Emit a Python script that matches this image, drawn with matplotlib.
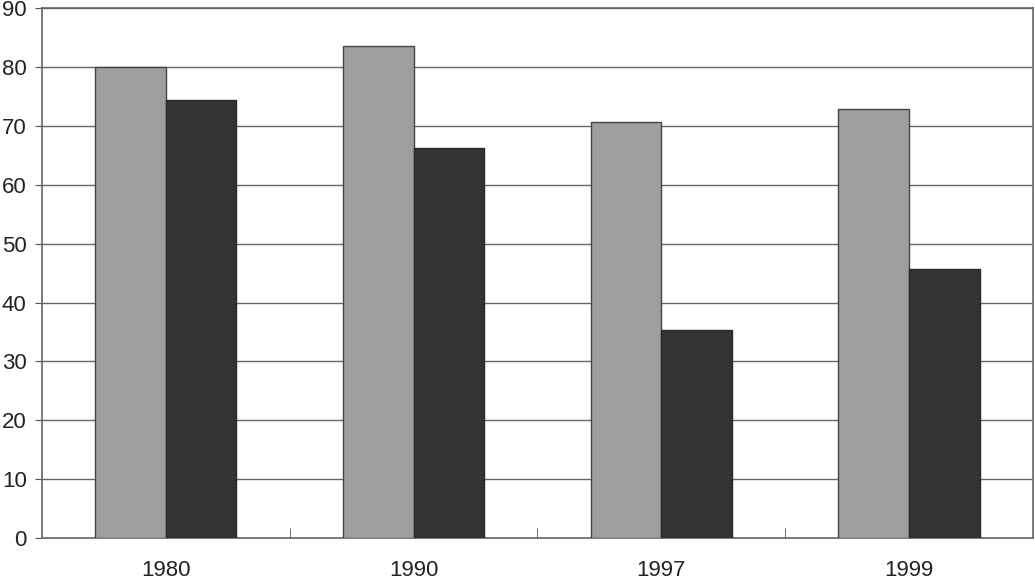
import matplotlib
matplotlib.use("Agg")
import matplotlib.pyplot as plt
import numpy as np

categories = ["1980", "1990", "1997", "1999"]
series_a = [80.0, 83.5, 70.6, 72.8]
series_b = [74.4, 66.2, 35.3, 45.7]
y_ticks = [0, 10, 20, 30, 40, 50, 60, 70, 80, 90]

plt.rcParams["font.family"] = ["Liberation Sans", "DejaVu Sans"]

fig = plt.figure(figsize=(10.35, 5.81), dpi=100)
ax = fig.add_axes([0.0406, 0.074, 0.9574, 0.912])

x = np.arange(len(categories))
w = 0.285
ax.bar(x - w / 2, series_a, w, color="#9e9e9e", edgecolor="#444444", linewidth=1.0, zorder=3)
ax.bar(x + w / 2, series_b, w, color="#333333", edgecolor="#2a2a2a", linewidth=1.0, zorder=3)

ax.set_xlim(-0.5, len(categories) - 0.5)
ax.set_ylim(0, 90)
ax.set_yticks(y_ticks)
ax.set_yticklabels([str(t) for t in y_ticks], fontsize=16, color="#222222")
ax.set_xticks(x)
ax.set_xticklabels(categories, fontsize=16, color="#222222")
ax.set_xticks(np.arange(len(categories) - 1) + 0.5, minor=True)
ax.tick_params(axis="x", which="major", length=0, pad=16)
ax.tick_params(axis="x", which="minor", direction="in", length=7, color="#555555")
ax.tick_params(axis="y", which="major", direction="out", length=5, color="#555555", pad=6)

ax.yaxis.grid(True, color="#666666", linewidth=1.0, zorder=0)
ax.set_axisbelow(True)
for s in ax.spines.values():
    s.set_color("#666666")
    s.set_linewidth(1.2)

fig.savefig("out.png", dpi=100)
